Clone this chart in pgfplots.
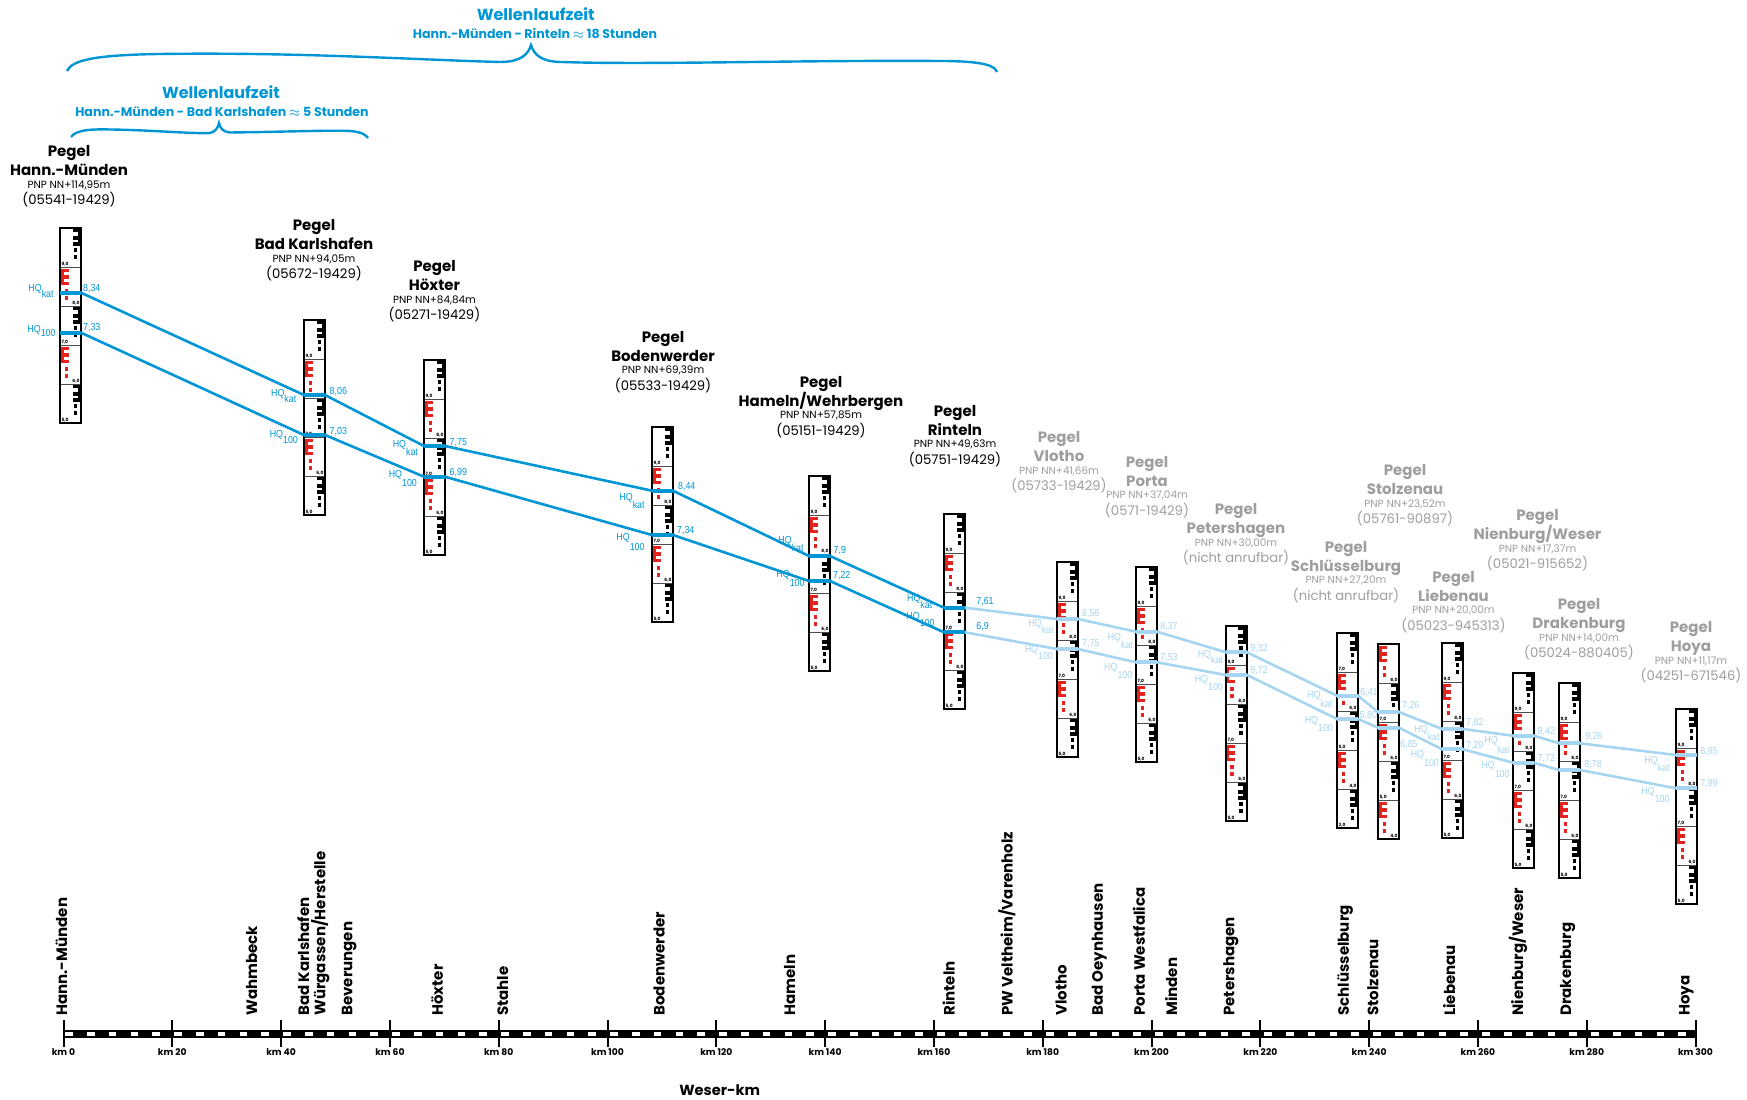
\documentclass[border=0pt]{standalone}
\usepackage{fontspec}
\setmainfont{Poppins}
\newfontfamily\narrowfont[FakeStretch=0.87]{Liberation Sans}
\usepackage{pgfplots}
\pgfplotsset{compat=1.18}
\definecolor{hqdark}{RGB}{0,150,214}
\definecolor{hqlight}{RGB}{165,213,240}
\definecolor{greytxt}{RGB}{158,158,158}
\definecolor{gred}{RGB}{228,35,30}
\newcommand\hdrfont{\bfseries\fontsize{7.5}{8}\selectfont}
\newcommand\pnpfont{\fontsize{5.2}{5.5}\selectfont}
\newcommand\codefont{\fontsize{6.6}{7}\selectfont}
\newcommand\hqfont{\narrowfont\fontsize{5.1}{5.5}\selectfont}
\tikzset{
  seglbl/.style={inner sep=0pt, font=\bfseries\fontsize{2.2}{2.2}\selectfont},
  pics/gauge/.style={code={
    \begin{scope}[x=0.5pt,y=-0.5pt]
    \fill[white] (0,0) rectangle (21,195);
    \foreach \k in {0,...,4}{
      \pgfmathtruncatemacro\lo{#1-1-\k}
      \pgfmathsetmacro\sg{39*\k}
      \ifodd\lo
        \fill[black] (17.5,\sg+1) rectangle (20.5,\sg+17.5);
        \fill[black] (12.5,\sg+1) rectangle (20.5,\sg+4.3);
        \fill[black] (12.5,\sg+8.3) rectangle (20.5,\sg+11.7);
        \fill[black] (12.5,\sg+14.2) rectangle (20.5,\sg+17.5);
        \fill[black] (13.5,\sg+20) rectangle (17,\sg+23.5);
        \fill[black] (13.5,\sg+27) rectangle (17,\sg+30.5);
        \node[seglbl,anchor=south west] at (1.2,\sg+38) {\lo,0};
      \else
        \fill[gred] (0.5,\sg+1.5) rectangle (3.5,\sg+17.5);
        \fill[gred] (0.5,\sg+1.5) rectangle (9,\sg+4.5);
        \fill[gred] (0.5,\sg+8.3) rectangle (9,\sg+11.7);
        \fill[gred] (0.5,\sg+14.5) rectangle (9,\sg+17.5);
        \fill[gred] (4.5,\sg+22) rectangle (8,\sg+25.5);
        \fill[gred] (4.5,\sg+29) rectangle (8,\sg+32.5);
        \node[seglbl,anchor=south east] at (19.8,\sg+38) {\lo,0};
      \fi
      \ifnum\k>0 \draw[line width=0.3pt, black!70] (0,\sg) -- (21,\sg); \fi
    }
    \draw[line width=1pt] (0,0) rectangle (21,195);
    \end{scope}
  }},
  place/.style={rotate=90, anchor=west, inner sep=0pt, font=\hdrfont},
}
\newcommand\header[6]{%
  \node[anchor=base, inner sep=0pt, text=#6, font=\hdrfont] at (#1,#2) {Pegel};
  \node[anchor=base, inner sep=0pt, text=#6, font=\hdrfont] at (#1,#2+19) {#3};
  \node[anchor=base, inner sep=0pt, text=#6, font=\pnpfont] at (#1,#2+31.5) {#4};
  \node[anchor=base, inner sep=0pt, text=#6, font=\codefont] at (#1,#2+48) {#5};
}
\newcommand\val[4]{\node[anchor=base west, inner sep=0pt, text=#4, font=\hqfont] at (#1,#2) {#3};}
\newcommand\hq[5]{\node[anchor=base east, inner sep=0pt, text=#5, font=\hqfont] at (#1,#2) {HQ\raisebox{-#4pt}{#3}};}
\begin{document}
\begin{tikzpicture}
\begin{axis}[
  scale only axis, width=873.5pt, height=549.5pt,
  xmin=-11.6728, xmax=309.467, ymin=0, ymax=1099, y dir=reverse,
  hide axis, clip=false,
]
\coordinate (TL) at (axis cs:-11.6728,0);
% gauges (left edge km, top px)
\pic at (axis cs:-0.643,228) {gauge=10};
\pic at (axis cs:44.21,320) {gauge=10};
\pic at (axis cs:66.27,360) {gauge=10};
\pic at (axis cs:108.18,427) {gauge=10};
\pic at (axis cs:137.04,476) {gauge=10};
\pic at (axis cs:161.86,514) {gauge=10};
\pic at (axis cs:182.63,562) {gauge=10};
\pic at (axis cs:197.15,567) {gauge=10};
\pic at (axis cs:213.69,626) {gauge=10};
\pic at (axis cs:234.10,633) {gauge=8};
\pic at (axis cs:241.64,644) {gauge=9};
\pic at (axis cs:253.40,643) {gauge=10};
\pic at (axis cs:266.45,673) {gauge=10};
\pic at (axis cs:274.91,683) {gauge=10};
\pic at (axis cs:296.42,709) {gauge=10};
% HQ kat
\addplot[hqdark, line width=1.3pt] coordinates {(-0.64,292.7)(3.22,292.7)(44.21,395)(48.07,395)(66.27,446)(70.13,446)(108.18,490.7)(112.04,490.7)(137.04,556)(140.90,556)(161.86,607.7)(165.72,607.7)};
\addplot[hqlight, line width=1.3pt] coordinates {(165.72,607.7)(182.63,619)(186.49,619)(197.15,631.7)(201.01,631.7)(213.69,652.3)(217.55,652.3)(234.10,695.7)(237.96,695.7)(241.64,712)(245.50,712)(253.40,729)(257.26,729)(266.45,735.7)(270.31,735.7)(274.91,743.3)(278.77,743.3)(296.42,755)(300.28,755)};
% HQ 100
\addplot[hqdark, line width=1.3pt] coordinates {(-0.64,332.7)(3.22,332.7)(44.21,435)(48.07,435)(66.27,476.7)(70.13,476.7)(108.18,535)(112.04,535)(137.04,581)(140.90,581)(161.86,632.3)(165.72,632.3)};
\addplot[hqlight, line width=1.3pt] coordinates {(165.72,632.3)(182.63,649)(186.49,649)(197.15,662.3)(201.01,662.3)(213.69,675)(217.55,675)(234.10,719)(237.96,719)(241.64,727.7)(245.50,727.7)(253.40,749.3)(257.26,749.3)(266.45,762.7)(270.31,762.7)(274.91,770)(278.77,770)(296.42,788.3)(300.28,788.3)};
% thick marks on the gauges
\addplot[hqdark, line width=2pt, unbounded coords=jump] coordinates {(-0.64,292.7)(3.22,292.7)(nan,nan)(44.21,395)(48.07,395)(nan,nan)(66.27,446)(70.13,446)(nan,nan)(108.18,490.7)(112.04,490.7)(nan,nan)(137.04,556)(140.90,556)(nan,nan)(161.86,607.7)(165.72,607.7)(nan,nan)
(-0.64,332.7)(3.22,332.7)(nan,nan)(44.21,435)(48.07,435)(nan,nan)(66.27,476.7)(70.13,476.7)(nan,nan)(108.18,535)(112.04,535)(nan,nan)(137.04,581)(140.90,581)(nan,nan)(161.86,632.3)(165.72,632.3)};
\addplot[hqlight, line width=2pt, unbounded coords=jump] coordinates {(182.63,619)(186.49,619)(nan,nan)(197.15,631.7)(201.01,631.7)(nan,nan)(213.69,652.3)(217.55,652.3)(nan,nan)(234.10,695.7)(237.96,695.7)(nan,nan)(241.64,712)(245.50,712)(nan,nan)(253.40,729)(257.26,729)(nan,nan)(266.45,735.7)(270.31,735.7)(nan,nan)(274.91,743.3)(278.77,743.3)(nan,nan)(296.42,755)(300.28,755)(nan,nan)
(182.63,649)(186.49,649)(nan,nan)(197.15,662.3)(201.01,662.3)(nan,nan)(213.69,675)(217.55,675)(nan,nan)(234.10,719)(237.96,719)(nan,nan)(241.64,727.7)(245.50,727.7)(nan,nan)(253.40,749.3)(257.26,749.3)(nan,nan)(266.45,762.7)(270.31,762.7)(nan,nan)(274.91,770)(278.77,770)(nan,nan)(296.42,788.3)(300.28,788.3)};
% km bar
\addplot[black, line width=3.85pt] coordinates {(0,1034)(300,1034)};
\addplot[white, line width=1.6pt, dash pattern=on 3.85pt off 7.05pt] coordinates {(0.3,1034)(300,1034)};
\addplot[only marks, mark=|, mark size=6.75pt, mark options={line width=1pt, black}] coordinates {(0,1033.5)(20,1033.5)(40,1033.5)(60,1033.5)(80,1033.5)(100,1033.5)(120,1033.5)(140,1033.5)(160,1033.5)(180,1033.5)(200,1033.5)(220,1033.5)(240,1033.5)(260,1033.5)(280,1033.5)(300,1033.5)};
\pgfplotsinvokeforeach{0,20,...,300}{\node[anchor=base, inner sep=0pt, font=\bfseries\fontsize{4.6}{5}\selectfont] at (axis cs:#1,1055) {km #1};}
% places
\node[place] at (axis cs:-0.4,1016) {Hann.-Münden};
\node[place] at (axis cs:34.6,1016) {Wahmbeck};
\node[place] at (axis cs:44.1,1016) {Bad Karlshafen};
\node[place] at (axis cs:47.2,1016) {Würgassen/Herstelle};
\node[place] at (axis cs:52.5,1016) {Beverungen};
\node[place] at (axis cs:68.7,1016) {Höxter};
\node[place] at (axis cs:80.7,1016) {Stahle};
\node[place] at (axis cs:109.5,1016) {Bodenwerder};
\node[place] at (axis cs:133.5,1016) {Hameln};
\node[place] at (axis cs:162.7,1016) {Rinteln};
\node[place] at (axis cs:173.4,1016) {PW Veltheim/Varenholz};
\node[place] at (axis cs:183.4,1016) {Vlotho};
\node[place] at (axis cs:190.4,1016) {Bad Oeynhausen};
\node[place] at (axis cs:197.7,1016) {Porta Westfalica};
\node[place] at (axis cs:203.6,1016) {Minden};
\node[place] at (axis cs:214.6,1016) {Petershagen};
\node[place] at (axis cs:235.6,1016) {Schlüsselburg};
\node[place] at (axis cs:240.7,1016) {Stolzenau};
\node[place] at (axis cs:254.7,1016) {Liebenau};
\node[place] at (axis cs:267.4,1016) {Nienburg/Weser};
\node[place] at (axis cs:276.5,1016) {Drakenburg};
\node[place] at (axis cs:298.3,1016) {Hoya};
\end{axis}
\begin{scope}[shift={(TL)}, x=0.5pt, y=-0.5pt]
% braces and titles
\draw[hqdark, line width=1.2pt] (67,71) .. controls (72,60) and (95,55) .. (160,54) .. controls (300,52) and (420,60) .. (500,62) .. controls (520,62) and (528,55) .. (531,45) .. controls (534,55) and (542,62) .. (562,62) .. controls (650,65) and (800,60) .. (940,61) .. controls (985,61) and (995,66) .. (997,72);
\draw[hqdark, line width=1.2pt] (71,137) .. controls (76,130) and (90,129) .. (110,129.5) .. controls (150,130) and (195,134) .. (210,133) .. controls (215,132) and (218,128) .. (219,123) .. controls (220,128) and (223,132) .. (230,132.5) .. controls (280,132) and (330,130) .. (350,131) .. controls (362,132) and (366,135) .. (368,138);
\node[anchor=base, inner sep=0pt, text=hqdark, font=\bfseries\fontsize{8}{8}\selectfont] at (535.7,20.7) {Wellenlaufzeit};
\node[anchor=base, inner sep=0pt, text=hqdark, font=\bfseries\fontsize{6.3}{6.5}\selectfont] at (535,38.3) {Hann.-Münden - Rinteln $\approx$ 18 Stunden};
\node[anchor=base, inner sep=0pt, text=hqdark, font=\bfseries\fontsize{8}{8}\selectfont] at (221,99) {Wellenlaufzeit};
\node[anchor=base, inner sep=0pt, text=hqdark, font=\bfseries\fontsize{6.3}{6.5}\selectfont] at (222,116.7) {Hann.-Münden - Bad Karlshafen $\approx$ 5 Stunden};
% headers
\header{69}{157}{Hann.-Münden}{PNP NN+114,95m}{(05541-19429)}{black}
\header{314}{230.6}{Bad Karlshafen}{PNP NN+94,05m}{(05672-19429)}{black}
\header{434.5}{271.6}{Höxter}{PNP NN+84,84m}{(05271-19429)}{black}
\header{663}{342.3}{Bodenwerder}{PNP NN+69,39m}{(05533-19429)}{black}
\header{821}{387.3}{Hameln/Wehrbergen}{PNP NN+57,85m}{(05151-19429)}{black}
\header{955}{416.3}{Rinteln}{PNP NN+49,63m}{(05751-19429)}{black}
\header{1059}{443}{Vlotho}{PNP NN+41,66m}{(05733-19429)}{greytxt}
\header{1147}{467.3}{Porta}{PNP NN+37,04m}{(0571-19429)}{greytxt}
\header{1236}{514.7}{Petershagen}{PNP NN+30,00m}{(nicht anrufbar)}{greytxt}
\header{1346}{552.3}{Schlüsselburg}{PNP NN+27,20m}{(nicht anrufbar)}{greytxt}
\header{1405}{475.7}{Stolzenau}{PNP NN+23,52m}{(05761-90897)}{greytxt}
\header{1453.5}{582.3}{Liebenau}{PNP NN+20,00m}{(05023-945313)}{greytxt}
\header{1537.5}{520.7}{Nienburg/Weser}{PNP NN+17,37m}{(05021-915652)}{greytxt}
\header{1579}{610}{Drakenburg}{PNP NN+14,00m}{(05024-880405)}{greytxt}
\header{1691}{633}{Hoya}{PNP NN+11,17m}{(04251-671546)}{greytxt}
% HQ labels
\hq{54}{291.7}{kat}{2.8}{hqdark} \hq{56}{332.3}{100}{2}{hqdark}
\hq{296.7}{396.7}{kat}{3}{hqdark} \hq{298.3}{437.3}{100}{3}{hqdark}
\hq{418.3}{447.3}{kat}{4.2}{hqdark} \hq{417.3}{477.3}{100}{4.7}{hqdark}
\hq{645}{500.7}{kat}{3.8}{hqdark} \hq{645}{540.7}{100}{4.7}{hqdark}
\hq{804}{544}{kat}{3.8}{hqdark} \hq{805}{577.3}{100}{4.7}{hqdark}
\hq{932.7}{601.7}{kat}{3.3}{hqdark} \hq{935}{620}{100}{3.3}{hqdark}
\hq{1054}{626.7}{kat}{3.3}{hqlight} \hq{1053.3}{652.3}{100}{3.8}{hqlight}
\hq{1133.3}{640.7}{kat}{3.8}{hqlight} \hq{1132.7}{670.7}{100}{3.8}{hqlight}
\hq{1223.3}{657.3}{kat}{3.3}{hqlight} \hq{1223.3}{682.3}{100}{4.2}{hqlight}
\hq{1332.7}{699}{kat}{4.2}{hqlight} \hq{1333.3}{723.3}{100}{4.2}{hqlight}
\hq{1440}{732.7}{kat}{4}{hqlight} \hq{1439.3}{757.3}{100}{4.7}{hqlight}
\hq{1510}{744}{kat}{4.7}{hqlight} \hq{1510}{769}{100}{4.5}{hqlight}
\hq{1670}{764}{kat}{3.8}{hqlight} \hq{1670}{795}{100}{4}{hqlight}
% values
\val{82.7}{291.7}{8,34}{hqdark} \val{82.7}{331}{7,33}{hqdark}
\val{329.3}{395}{8,06}{hqdark} \val{329.3}{434.3}{7,03}{hqdark}
\val{449.3}{446}{7,75}{hqdark} \val{449.3}{475.7}{6,99}{hqdark}
\val{677.7}{489.3}{8,44}{hqdark} \val{676.7}{533.3}{7,34}{hqdark}
\val{833.3}{553.3}{7,9}{hqdark} \val{832.7}{578.3}{7,22}{hqdark}
\val{976}{604.3}{7,61}{hqdark} \val{976}{630}{6,9}{hqdark}
\val{1081.7}{616.7}{8,56}{hqlight} \val{1081.7}{646.7}{7,75}{hqlight}
\val{1160}{629.3}{8,37}{hqlight} \val{1160}{660.7}{7,53}{hqlight}
\val{1250}{651.7}{9,32}{hqlight} \val{1250}{673.3}{8,72}{hqlight}
\val{1360}{695.7}{6,41}{hqlight} \val{1359.3}{719}{5,80}{hqlight}
\val{1401.7}{709}{7,26}{hqlight} \val{1400}{747.3}{6,85}{hqlight}
\val{1465.7}{725.7}{7,82}{hqlight} \val{1465.7}{749}{7,29}{hqlight}
\val{1537.3}{735}{8,42}{hqlight} \val{1537.3}{761.7}{7,72}{hqlight}
\val{1585}{740}{9,26}{hqlight} \val{1584}{767.3}{8,78}{hqlight}
\val{1700}{754.3}{8,85}{hqlight} \val{1700}{786.7}{7,99}{hqlight}
% axis title
\node[anchor=base, inner sep=0pt, font=\bfseries\fontsize{7.3}{8}\selectfont] at (719.7,1095) {Weser-km};
\pgfresetboundingbox
\path (0,0) rectangle (1747,1099);
\end{scope}
\end{tikzpicture}
\end{document}
